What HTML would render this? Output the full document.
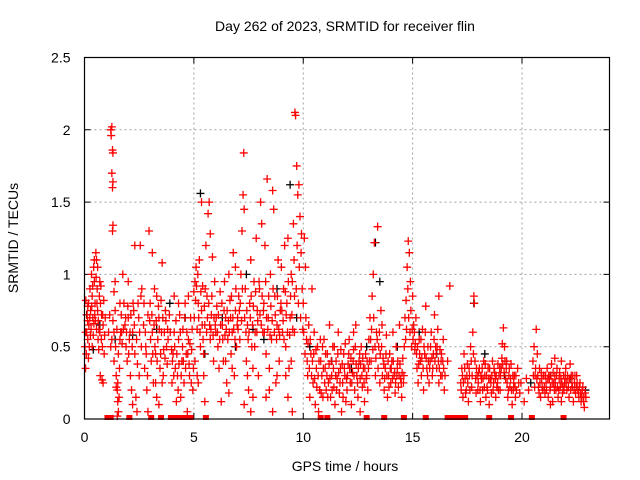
<!DOCTYPE html>
<html><head><meta charset="utf-8">
<style>
html,body{margin:0;padding:0;background:#fff;}
svg{display:block;font-family:"Liberation Sans",sans-serif;}
</style></head>
<body>
<svg id="chart" width="640" height="480" viewBox="0 0 640 480">
<text x="345" y="31" font-size="14" text-anchor="middle" fill="#000">Day 262 of 2023, SRMTID for receiver flin</text>
<text x="345" y="471" font-size="14" text-anchor="middle" fill="#000">GPS time / hours</text>
<text transform="translate(18,238) rotate(-90)" font-size="14" text-anchor="middle" fill="#000">SRMTID / TECUs</text>
<g id="grid"></g>
<g id="ticks"></g>
<g id="black"></g>
<g id="red"></g>
<rect x="84.5" y="57.5" width="525" height="361.5" fill="none" stroke="#000" stroke-width="1.2"/>
</svg>
<script>
const xTicks = [0, 5, 10, 15, 20];
const yTicks = [0, 0.5, 1, 1.5, 2, 2.5];
const yTickLabels = ["0", "0.5", "1", "1.5", "2", "2.5"];
const xDomain = [0, 24];
const yDomain = [0, 2.5];

const zeroTimes = [1.05,1.2,2.05,3.05,3.5,3.95,4.1,4.25,4.35,4.45,4.55,4.7,4.85,5.55,10.8,11.1,12.9,13.7,14.6,15.6,16.6,16.75,16.9,17.05,17.2,17.4,18.5,19.5,20.45,21.9];

const redPoints = [
[0.05,0.35],[0.08,0.45],[0.1,0.6],[0.12,0.72],[0.15,0.55],[0.18,0.8],[0.2,0.65],[0.22,0.5],[0.25,0.9],[0.28,0.75],[0.3,0.62],[0.32,1.0],[0.35,0.85],[0.38,0.7],[0.4,0.58],[0.42,1.05],[0.45,0.95],[0.48,0.8],[0.5,0.68],[0.52,1.15],[0.55,1.1],[0.58,0.9],[0.6,0.75],[0.62,0.55],[0.65,0.48],[0.68,0.85],[0.7,0.6],[0.72,0.3],[0.75,0.92],[0.78,0.72],[0.8,0.27],[0.82,0.5],[0.85,0.65],[0.88,0.82],[0.9,0.45],[0.05,0.6],[0.15,0.78],[0.35,0.5],[0.55,0.62],[0.85,0.25],
[1.2,2.0],[1.25,2.02],[1.22,1.96],[1.28,1.86],[1.3,1.84],[1.25,1.7],[1.3,1.64],[1.28,1.6],[1.3,1.34],[1.28,1.3],[1.35,0.6],[1.2,0.5],[1.25,0.55],[1.3,0.68],[1.4,0.75],[1.45,0.3],[1.5,0.2],[1.52,0.12],[1.55,0.05],[1.5,0.02],[1.58,0.15],[1.6,0.35],[1.62,0.55],[1.65,0.6],[1.35,0.4],[1.4,0.95],
[1.8,0.8],[1.85,0.65],[1.9,0.5],[1.95,0.4],[2.0,0.7],[2.05,0.55],[2.1,0.3],[2.15,0.2],[2.2,0.6],[2.25,0.75],[2.3,0.45],[2.35,0.15],[2.4,0.05],[2.45,0.8],[2.5,0.3],[2.3,1.2],[2.55,1.2],[2.6,0.5],[1.75,1.0],[2.0,0.95],[2.2,0.1],
[2.7,0.65],[2.75,0.35],[2.8,0.5],[2.85,0.2],[2.9,0.72],[2.95,1.3],[3.0,0.8],[3.05,0.4],[3.1,0.6],[3.15,0.25],[3.2,0.9],[3.25,0.45],[3.3,0.15],[3.35,0.55],[3.4,0.7],[3.45,0.35],[3.5,0.82],[3.55,1.08],[3.6,0.3],[3.65,0.6],[3.7,0.75],[3.75,0.5],[3.8,0.62],[3.3,0.85],[3.1,1.15],[3.4,0.1],[2.9,0.05],
[4.0,0.25],[4.05,0.45],[4.1,0.6],[4.15,0.35],[4.2,0.12],[4.25,0.3],[4.3,0.55],[4.35,0.72],[4.4,0.15],[4.45,0.4],[4.5,0.62],[4.55,0.25],[4.6,0.8],[4.65,0.45],[4.7,0.05],[4.75,0.55],[4.8,0.3],[4.85,0.7],[4.9,0.48],[4.95,0.2],
[5.0,0.88],[5.05,0.95],[5.1,1.05],[5.15,0.62],[5.2,0.8],[5.25,1.1],[5.3,0.5],[5.35,0.75],[5.4,0.92],[5.45,0.3],[5.5,0.65],[5.55,1.2],[5.6,0.85],[5.65,1.42],[5.7,1.5],[5.75,0.55],[5.8,0.72],[5.85,1.12],[5.9,0.4],[5.95,0.95],[5.2,0.25],[5.5,0.12],[5.35,1.5],[5.75,1.28],
[6.0,0.6],[6.05,0.78],[6.1,0.5],[6.15,0.35],[6.2,0.88],[6.3,0.65],[6.35,0.4],[6.4,0.95],[6.45,0.7],[6.5,0.25],[6.55,0.55],[6.6,1.0],[6.65,0.82],[6.7,0.45],[6.75,0.6],[6.8,1.15],[6.85,0.3],[6.9,0.75],[6.95,0.5],[6.25,0.12],[6.6,0.18],[6.9,1.05],
[7.0,0.7],[7.05,0.85],[7.1,0.55],[7.15,1.0],[7.2,1.3],[7.25,1.55],[7.3,1.45],[7.28,1.84],[7.35,0.9],[7.4,0.4],[7.45,0.65],[7.5,0.2],[7.55,0.8],[7.6,1.1],[7.65,0.5],[7.7,0.35],[7.75,0.95],[7.8,0.6],[7.85,1.25],[7.9,0.75],[7.95,0.3],[7.6,0.05],[7.3,0.1],
[8.0,0.9],[8.05,1.5],[8.1,1.35],[8.15,0.6],[8.2,0.8],[8.25,1.2],[8.3,0.45],[8.35,1.66],[8.4,0.7],[8.45,0.35],[8.5,1.0],[8.55,0.55],[8.6,1.58],[8.65,1.45],[8.7,0.85],[8.75,0.25],[8.8,0.65],[8.85,1.1],[8.9,0.4],[8.95,0.75],[8.3,0.15],[8.6,0.05],
[9.0,1.05],[9.05,0.6],[9.1,0.9],[9.15,1.2],[9.2,0.5],[9.25,0.8],[9.3,1.25],[9.35,0.35],[9.4,0.7],[9.45,1.0],[9.5,0.95],[9.55,1.35],[9.6,0.85],[9.62,2.12],[9.65,2.1],[9.7,1.75],[9.75,1.55],[9.8,1.62],[9.85,1.4],[9.9,1.15],[9.95,0.9],[9.3,0.15],[9.5,0.05],[9.6,0.6],
[10.0,0.8],[10.05,1.25],[10.1,1.05],[10.15,0.55],[10.2,0.3],[10.25,0.65],[10.3,0.15],[10.35,0.45],[10.4,0.9],[10.45,0.25],[10.5,0.6],[10.55,0.1],[10.6,0.35],[10.65,0.5],[10.7,0.05],[10.75,0.2],[10.8,0.4],[10.85,0.3],[10.9,0.15],[10.95,0.55],
[11.0,0.35],[11.05,0.2],[11.1,0.45],[11.15,0.25],[11.2,0.65],[11.25,0.15],[11.3,0.3],[11.35,0.5],[11.4,0.22],[11.45,0.1],[11.5,0.4],[11.55,0.28],[11.6,0.6],[11.65,0.18],[11.7,0.35],[11.75,0.05],[11.8,0.25],[11.85,0.45],[11.9,0.3],[11.95,0.12],
[12.0,0.2],[12.05,0.38],[12.1,0.55],[12.15,0.25],[12.2,0.1],[12.25,0.32],[12.3,0.48],[12.35,0.2],[12.4,0.65],[12.45,0.3],[12.5,0.15],[12.55,0.4],[12.6,0.28],[12.65,0.5],[12.7,0.22],[12.75,0.35],[12.8,0.12],[12.85,0.45],[12.9,0.3],[12.95,0.2],[12.3,0.6],[12.6,0.05],
[13.0,0.55],[13.05,0.7],[13.1,0.4],[13.15,0.85],[13.2,1.0],[13.25,1.22],[13.3,0.3],[13.35,0.6],[13.4,1.33],[13.45,0.5],[13.5,0.25],[13.55,0.75],[13.6,0.65],[13.65,0.42],[13.7,0.2],[13.75,0.35],[13.8,0.58],[13.85,0.15],[13.9,0.3],[13.95,0.45],
[14.0,0.25],[14.05,0.4],[14.1,0.6],[14.15,0.3],[14.2,0.18],[14.25,0.5],[14.3,0.35],[14.35,0.22],[14.4,0.65],[14.45,0.28],[14.5,0.15],[14.55,0.42],[14.6,0.3],[14.65,0.7],[14.7,0.82],[14.75,1.05],[14.8,1.23],[14.85,1.15],[14.9,0.95],[14.95,0.5],
[15.0,0.85],[15.05,0.65],[15.1,0.48],[15.15,0.7],[15.2,0.35],[15.25,0.25],[15.3,0.55],[15.35,0.4],[15.4,0.3],[15.45,0.62],[15.5,0.2],[15.55,0.45],[15.6,0.78],[15.65,0.35],[15.7,0.5],[15.75,0.25],[15.8,0.4],[15.85,0.6],[15.9,0.3],[15.95,0.45],
[16.0,0.72],[16.05,0.5],[16.1,0.35],[16.15,0.62],[16.2,0.25],[16.25,0.48],[16.3,0.4],[16.35,0.3],[16.4,0.55],[16.45,0.2],[16.6,0.4],[16.7,0.92],[16.2,0.85],
[17.2,0.25],[17.25,0.35],[17.3,0.15],[17.35,0.45],[17.4,0.28],[17.45,0.2],[17.5,0.38],[17.55,0.12],[17.6,0.3],[17.65,0.5],[17.7,0.22],[17.75,0.6],[17.8,0.85],[17.82,0.8],[17.85,0.4],[17.9,0.18],[17.95,0.3],
[18.0,0.25],[18.05,0.35],[18.1,0.12],[18.15,0.28],[18.2,0.2],[18.25,0.4],[18.3,0.3],[18.35,0.15],[18.4,0.22],[18.45,0.35],[18.5,0.1],[18.55,0.28],[18.6,0.18],[18.65,0.4],[18.7,0.25],[18.75,0.32],[18.8,0.15],[18.85,0.22],[18.9,0.38],[18.95,0.3],
[19.0,0.2],[19.05,0.35],[19.1,0.52],[19.15,0.63],[19.2,0.5],[19.25,0.28],[19.3,0.4],[19.35,0.15],[19.4,0.3],[19.45,0.22],[19.5,0.38],[19.55,0.1],[19.6,0.2],[19.65,0.3],[19.7,0.15],[19.8,0.35],[19.9,0.18],[19.95,0.25],
[20.1,0.12],[20.2,0.28],[20.3,0.2],[20.5,0.4],[20.55,0.5],[20.6,0.3],[20.65,0.62],[20.7,0.45],[20.75,0.22],[20.8,0.35],[20.85,0.15],[20.9,0.28],[20.95,0.2],
[21.0,0.3],[21.05,0.18],[21.1,0.25],[21.15,0.35],[21.2,0.15],[21.25,0.28],[21.3,0.22],[21.35,0.38],[21.4,0.12],[21.45,0.25],[21.5,0.3],[21.55,0.2],[21.6,0.35],[21.65,0.15],[21.7,0.28],[21.75,0.22],[21.8,0.4],[21.85,0.18],[21.9,0.3],[21.95,0.25],
[22.0,0.35],[22.05,0.2],[22.1,0.28],[22.15,0.15],[22.2,0.38],[22.25,0.3],[22.3,0.22],[22.35,0.12],[22.4,0.25],[22.45,0.18],[22.5,0.3],[22.55,0.2],[22.6,0.15],[22.65,0.25],[22.7,0.12],[22.75,0.2],[22.8,0.15],[22.85,0.08],[21.5,0.42],[21.3,0.1],[21.8,0.12]
];

const redPointsExtra = [
[0.02,0.5],[0.06,0.82],[0.14,0.68],[0.18,0.42],[0.24,0.7],[0.27,0.58],[0.33,0.78],[0.37,0.92],[0.43,0.66],[0.47,0.72],[0.53,0.98],[0.57,0.8],[0.63,0.68],[0.66,0.62],[0.73,0.8],[0.77,0.55],[0.83,0.72],[0.92,0.58],[0.95,0.7],[0.6,1.05],[0.45,1.1],[0.7,0.95],
[1.1,0.6],[1.15,0.72],[1.35,0.88],[1.42,0.5],[1.48,0.62],[1.55,0.45],[1.62,0.8],[1.68,0.72],[1.72,0.52],[1.45,0.22],[1.52,0.25],[1.7,0.6],[1.78,0.62],[1.88,0.7],[1.92,0.6],[1.98,0.78],[2.02,0.45],[2.08,0.6],[2.12,0.72],[2.18,0.5],[2.22,0.8],[2.28,0.65],[2.38,0.55],[2.42,0.38],[2.48,0.7],[2.52,0.6],[2.58,0.85],[2.62,0.9],
[2.72,0.8],[2.78,0.6],[2.82,0.45],[2.88,0.3],[2.98,0.68],[3.02,0.55],[3.08,0.72],[3.12,0.45],[3.18,0.65],[3.22,0.5],[3.28,0.68],[3.32,0.4],[3.38,0.78],[3.42,0.62],[3.48,0.45],[3.52,0.6],[3.58,0.7],[3.62,0.48],[3.68,0.42],[3.72,0.68],[3.78,0.38],[3.82,0.55],[3.88,0.72],[3.92,0.6],[3.98,0.48],[3.55,0.25],[3.25,0.25],
[4.02,0.4],[4.08,0.3],[4.12,0.5],[4.18,0.68],[4.22,0.45],[4.28,0.2],[4.32,0.38],[4.38,0.6],[4.42,0.3],[4.48,0.5],[4.52,0.4],[4.58,0.7],[4.62,0.35],[4.68,0.6],[4.72,0.45],[4.78,0.38],[4.82,0.52],[4.88,0.25],[4.92,0.62],[4.98,0.35],[4.3,0.8],[4.1,0.85],[4.75,0.85],
[5.02,0.7],[5.08,0.82],[5.12,0.92],[5.18,1.0],[5.22,0.7],[5.28,0.6],[5.32,0.88],[5.38,0.65],[5.42,0.55],[5.48,0.78],[5.52,0.9],[5.58,0.6],[5.62,0.7],[5.68,0.8],[5.72,0.65],[5.78,0.62],[5.82,0.85],[5.88,0.58],[5.92,0.7],[5.98,0.65],[5.05,0.4],[5.15,0.3],[5.45,0.45],
[6.02,0.7],[6.08,0.6],[6.12,0.72],[6.18,0.55],[6.22,0.65],[6.28,0.8],[6.32,0.55],[6.38,0.75],[6.42,0.58],[6.48,0.62],[6.52,0.75],[6.58,0.68],[6.62,0.6],[6.68,0.7],[6.72,0.85],[6.78,0.7],[6.82,0.62],[6.88,0.55],[6.92,0.9],[6.98,0.65],[6.45,0.4],[6.75,0.35],
[7.02,0.62],[7.08,0.75],[7.12,0.8],[7.18,0.68],[7.22,0.9],[7.32,0.7],[7.38,0.6],[7.42,0.75],[7.48,0.55],[7.52,0.6],[7.58,0.7],[7.62,0.85],[7.68,0.65],[7.72,0.78],[7.78,0.5],[7.82,0.88],[7.88,0.6],[7.92,0.68],[7.98,0.95],[7.45,0.3],[7.7,0.15],
[8.02,0.72],[8.08,0.65],[8.12,0.85],[8.18,0.75],[8.22,0.6],[8.28,0.95],[8.32,0.7],[8.38,0.62],[8.42,0.85],[8.48,0.58],[8.52,0.78],[8.58,0.68],[8.62,0.9],[8.68,0.6],[8.72,0.72],[8.78,0.55],[8.82,0.85],[8.88,0.62],[8.92,0.58],[8.98,0.8],[8.45,0.2],[8.8,0.3],
[9.02,0.75],[9.08,0.68],[9.12,0.55],[9.18,0.88],[9.22,0.72],[9.28,0.6],[9.32,0.95],[9.38,0.58],[9.42,0.85],[9.48,0.72],[9.52,0.62],[9.58,1.1],[9.68,0.9],[9.72,1.2],[9.78,0.8],[9.82,1.05],[9.88,0.7],[9.92,1.28],[9.98,0.62],[9.2,0.3],[9.45,0.4],
[10.02,0.6],[10.08,0.45],[10.12,0.7],[10.18,0.4],[10.22,0.52],[10.28,0.35],[10.32,0.55],[10.38,0.3],[10.42,0.4],[10.48,0.45],[10.52,0.28],[10.58,0.48],[10.62,0.22],[10.68,0.3],[10.72,0.4],[10.78,0.55],[10.82,0.18],[10.88,0.5],[10.92,0.35],[10.98,0.25],
[11.02,0.45],[11.08,0.3],[11.12,0.15],[11.18,0.38],[11.22,0.28],[11.28,0.4],[11.32,0.2],[11.38,0.35],[11.42,0.5],[11.48,0.3],[11.52,0.2],[11.58,0.45],[11.62,0.32],[11.68,0.25],[11.72,0.48],[11.78,0.38],[11.82,0.15],[11.88,0.35],[11.92,0.52],[11.98,0.28],
[12.02,0.3],[12.08,0.45],[12.12,0.35],[12.18,0.42],[12.22,0.25],[12.28,0.4],[12.32,0.3],[12.38,0.5],[12.42,0.38],[12.48,0.25],[12.52,0.35],[12.58,0.45],[12.62,0.38],[12.68,0.3],[12.72,0.42],[12.78,0.25],[12.82,0.35],[12.88,0.28],[12.92,0.4],[12.98,0.35],
[13.02,0.4],[13.08,0.55],[13.12,0.62],[13.18,0.48],[13.22,0.7],[13.28,0.5],[13.32,0.42],[13.38,0.55],[13.42,0.35],[13.48,0.6],[13.52,0.45],[13.58,0.5],[13.62,0.3],[13.68,0.38],[13.72,0.28],[13.78,0.45],[13.82,0.3],[13.88,0.4],[13.92,0.22],[13.98,0.35],
[14.02,0.35],[14.08,0.28],[14.12,0.4],[14.18,0.32],[14.22,0.25],[14.28,0.3],[14.32,0.4],[14.38,0.3],[14.42,0.38],[14.48,0.25],[14.52,0.32],[14.58,0.25],[14.62,0.5],[14.68,0.55],[14.72,0.62],[14.78,0.9],[14.82,0.7],[14.88,0.6],[14.92,0.75],[14.98,0.62],
[15.02,0.55],[15.08,0.6],[15.12,0.52],[15.18,0.45],[15.22,0.5],[15.28,0.38],[15.32,0.45],[15.38,0.55],[15.42,0.42],[15.48,0.35],[15.52,0.5],[15.58,0.6],[15.62,0.42],[15.68,0.3],[15.72,0.4],[15.78,0.35],[15.82,0.5],[15.88,0.42],[15.92,0.35],[15.98,0.55],
[16.02,0.4],[16.08,0.45],[16.12,0.5],[16.18,0.4],[16.22,0.35],[16.28,0.3],[16.32,0.45],[16.38,0.4],[16.42,0.35],[16.48,0.3],
[17.22,0.2],[17.28,0.3],[17.32,0.25],[17.38,0.35],[17.42,0.18],[17.48,0.3],[17.52,0.25],[17.58,0.35],[17.62,0.2],[17.68,0.4],[17.72,0.3],[17.78,0.45],[17.88,0.28],[17.92,0.35],[17.98,0.2],
[18.02,0.32],[18.08,0.2],[18.12,0.3],[18.18,0.35],[18.22,0.28],[18.28,0.22],[18.32,0.38],[18.38,0.3],[18.42,0.2],[18.48,0.28],[18.52,0.35],[18.58,0.25],[18.62,0.3],[18.68,0.2],[18.72,0.35],[18.78,0.28],[18.82,0.3],[18.88,0.25],[18.92,0.2],[18.98,0.35],
[19.02,0.3],[19.08,0.42],[19.12,0.38],[19.18,0.32],[19.22,0.4],[19.28,0.35],[19.32,0.25],[19.38,0.2],[19.42,0.35],[19.48,0.28],[19.52,0.2],[19.58,0.3],[19.62,0.25],[19.68,0.22],[19.72,0.3],[19.75,0.2],[19.85,0.25],
[20.52,0.3],[20.58,0.22],[20.62,0.35],[20.68,0.28],[20.72,0.3],[20.78,0.18],[20.82,0.25],[20.88,0.32],[20.92,0.22],[20.98,0.3],
[21.02,0.22],[21.08,0.3],[21.12,0.2],[21.18,0.28],[21.22,0.3],[21.28,0.2],[21.32,0.3],[21.38,0.25],[21.42,0.32],[21.48,0.2],[21.52,0.25],[21.58,0.3],[21.62,0.22],[21.68,0.2],[21.72,0.32],[21.78,0.28],[21.82,0.25],[21.88,0.22],[21.92,0.2],[21.98,0.3],
[22.02,0.25],[22.08,0.3],[22.12,0.22],[22.18,0.28],[22.22,0.2],[22.28,0.25],[22.32,0.3],[22.38,0.2],[22.42,0.3],[22.48,0.22],[22.52,0.25],[22.58,0.18],[22.62,0.22],[22.68,0.18],[22.72,0.15],[22.78,0.22],[22.82,0.12],[22.88,0.18],[22.92,0.15]
];

const blackPoints = [
[0.1,0.72],[0.4,0.48],[0.7,0.65],[1.4,0.55],[2.2,0.58],[3.3,0.62],[3.9,0.8],[4.6,0.7],[5.3,1.56],[5.5,0.45],[6.3,0.7],[6.9,0.5],[7.4,1.0],[7.7,0.62],[8.2,0.55],[8.8,0.9],[9.4,1.62],[9.7,0.7],[10.3,0.5],[11.3,0.4],[12.2,0.35],[12.9,0.5],[13.3,1.22],[13.5,0.95],[14.3,0.5],[15.3,0.6],[16.1,0.45],[17.8,0.8],[18.3,0.45],[19.2,0.3],[20.4,0.25],[21.3,0.3],[22.2,0.28],[22.9,0.2]
];

const NS = "http://www.w3.org/2000/svg";
const L = 84.5, R = 609.5, T = 57.5, B = 419;
function xs(t){ return L + (t - xDomain[0]) / (xDomain[1] - xDomain[0]) * (R - L); }
function ys(v){ return B - (v - yDomain[0]) / (yDomain[1] - yDomain[0]) * (B - T); }
function mk(tag, attrs, parent){
  const el = document.createElementNS(NS, tag);
  for (const k in attrs) el.setAttribute(k, attrs[k]);
  parent.appendChild(el);
  return el;
}
const grid = document.getElementById('grid');
const ticks = document.getElementById('ticks');
const svg = document.getElementById('chart');

xTicks.forEach(function(t){
  const x = xs(t);
  if (t > xDomain[0]) {
    const g = mk('line', {x1:x, x2:x, y1:T, y2:B, stroke:'#a0a0a0', 'stroke-dasharray':'2,3', 'stroke-width':1}, grid);
    
    
  }
  const tk = mk('path', {d:'M'+x+' '+B+'v-6M'+x+' '+T+'v6', stroke:'#000', 'stroke-width':1}, ticks);
  
  
  const lb = mk('text', {x:x, y:B+23, 'font-size':14, 'text-anchor':'middle', fill:'#000'}, svg);
  lb.textContent = String(t);
  
  
});
yTicks.forEach(function(v, i){
  const y = ys(v);
  if (v > yDomain[0] && v < yDomain[1]) {
    const g = mk('line', {x1:L, x2:R, y1:y, y2:y, stroke:'#a0a0a0', 'stroke-dasharray':'2,3', 'stroke-width':1}, grid);
    
    
  }
  const tk = mk('path', {d:'M'+L+' '+y+'h6M'+R+' '+y+'h-6', stroke:'#000', 'stroke-width':1}, ticks);
  
  
  const lb = mk('text', {x:L-14, y:y+5, 'font-size':14, 'text-anchor':'end', fill:'#000'}, svg);
  lb.textContent = yTickLabels[i];
  
  
});

function drawSeries(points, parentId, color, name){
  const parent = document.getElementById(parentId);
  let d = '';
  points.forEach(function(p){
    const x = xs(p[0]), y = ys(p[1]);
    d += 'M' + (x-4) + ' ' + y + 'h8M' + x + ' ' + (y-4) + 'v8';
  });
  const path = mk('path', {d:d, stroke:color, 'stroke-width':1.3, fill:'none'}, parent);
  
  
}
drawSeries(blackPoints, 'black', '#000', 'black-markers');
drawSeries(redPoints, 'red', '#ff0000', 'red-markers');
drawSeries(redPointsExtra, 'red', '#ff0000', 'red-markers-extra');

const redG = document.getElementById('red');
zeroTimes.forEach(function(t){
  const r = mk('rect', {x:xs(t)-3, y:B-4, width:6, height:5, fill:'#ff0000'}, redG);
  
  
});
</script>
</body></html>
